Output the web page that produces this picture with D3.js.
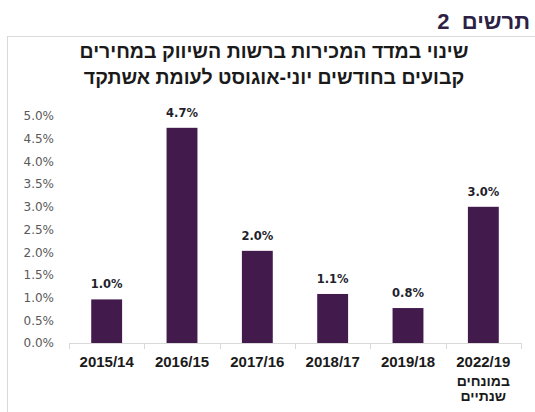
<!DOCTYPE html>
<html>
<head>
<meta charset="utf-8">
<script src="https://cdn.jsdelivr.net/npm/d3@7"></script>
<style>
  body { margin: 0; background: #fff; }
  svg { display: block; }
</style>
</head>
<body>
<div id="chart"></div>
<script>
// --- DATA ---
var categories = ["2015/14", "2016/15", "2017/16", "2018/17", "2019/18", "2022/19"];
var subLabels = [[], [], [], [], [], ["במונחים", "שנתיים"]];
var values = [0.0096, 0.0474, 0.0203, 0.0108, 0.0077, 0.0300];
var valueLabels = ["1.0%", "4.7%", "2.0%", "1.1%", "0.8%", "3.0%"];
var yTicks = [0, 0.005, 0.01, 0.015, 0.02, 0.025, 0.03, 0.035, 0.04, 0.045, 0.05];
var header = "תרשים  2";
var titleLines = ["שינוי במדד המכירות ברשות השיווק במחירים", "קבועים בחודשים יוני-אוגוסט לעומת אשתקד"];

// --- SETUP ---
var width = 535, height = 412;
var svg = d3.select("#chart").append("svg")
  .attr("width", width)
  .attr("height", height);

var margin = { left: 69, right: 14, top: 116, bottom: 69 };

var x = d3.scaleBand()
  .domain(categories)
  .range([margin.left, width - margin.right])
  .paddingInner(0.59)
  .paddingOuter(0.295);

var y = d3.scaleLinear()
  .domain([0, 0.05])
  .range([height - margin.bottom, margin.top]);

// frame (top and left border lines)
svg.append("line")
  .attr("x1", 7).attr("x2", width)
  .attr("y1", 36.5).attr("y2", 36.5)
  .attr("stroke", "#d9d9d9").attr("stroke-width", 1);
svg.append("line")
  .attr("x1", 7.5).attr("x2", 7.5)
  .attr("y1", 36).attr("y2", height)
  .attr("stroke", "#d9d9d9").attr("stroke-width", 1);

// header (rtl: "start" anchors the right edge)
svg.append("text")
  .attr("x", 530).attr("y", 29)
  .attr("text-anchor", "start")
  .attr("direction", "rtl")
  .style("white-space", "pre")
  .style("font-family", "'Liberation Sans', Arial, sans-serif")
  .style("font-weight", "bold")
  .style("font-size", "22px")
  .attr("fill", "#2e1f45")
  .text(header);

// title
svg.selectAll(".title")
  .data(titleLines)
  .enter().append("text")
  .attr("class", "title")
  .attr("x", 274)
  .attr("y", function(d, i) { return 58 + i * 26; })
  .attr("text-anchor", "middle")
  .attr("direction", "rtl")
  .style("font-family", "'Liberation Sans', Arial, sans-serif")
  .style("font-weight", "bold")
  .style("font-size", "19.5px")
  .attr("fill", "#1a1a1a")
  .text(function(d) { return d; });

// y axis labels (no line)
var yAxis = d3.axisLeft(y)
  .tickValues(yTicks)
  .tickFormat(d3.format(".1%"))
  .tickSize(0)
  .tickPadding(0);

var gy = svg.append("g")
  .attr("transform", "translate(54,0)")
  .call(yAxis);
gy.select(".domain").remove();
gy.selectAll("text")
  .style("font-family", "'DejaVu Sans', Verdana, sans-serif")
  .style("font-size", "12px")
  .attr("fill", "#595959");

// bars
svg.selectAll(".bar")
  .data(values)
  .enter().append("rect")
  .attr("class", "bar")
  .attr("x", function(d, i) { return x(categories[i]); })
  .attr("y", function(d) { return y(d); })
  .attr("width", x.bandwidth())
  .attr("height", function(d) { return y(0) - y(d); })
  .attr("fill", "#421b4c");

// value labels
svg.selectAll(".vlabel")
  .data(values)
  .enter().append("text")
  .attr("class", "vlabel")
  .attr("x", function(d, i) { return x(categories[i]) + x.bandwidth() / 2; })
  .attr("y", function(d) { return y(d) - 11; })
  .attr("text-anchor", "middle")
  .style("font-family", "'DejaVu Sans', Verdana, sans-serif")
  .style("font-weight", "bold")
  .style("font-size", "11.5px")
  .attr("fill", "#1f1f2e")
  .text(function(d, i) { return valueLabels[i]; });

// x axis line with ticks at category boundaries
var gx = svg.append("g").attr("class", "xaxis");
gx.append("line")
  .attr("x1", x.range()[0]).attr("x2", x.range()[1])
  .attr("y1", y(0) + 0.5).attr("y2", y(0) + 0.5)
  .attr("stroke", "#d9d9d9");
var bounds = categories.map(function(c) { return x(c) - x.step() * x.paddingOuter(); });
bounds.push(x.range()[1]);
gx.selectAll(".tick")
  .data(bounds)
  .enter().append("line")
  .attr("x1", function(d) { return Math.round(d) + 0.5; })
  .attr("x2", function(d) { return Math.round(d) + 0.5; })
  .attr("y1", y(0)).attr("y2", y(0) + 6)
  .attr("stroke", "#d9d9d9");

// category labels
var catG = gx.selectAll(".cat")
  .data(categories)
  .enter().append("text")
  .attr("class", "cat")
  .attr("text-anchor", "middle")
  .style("font-family", "'Liberation Sans', Arial, sans-serif")
  .style("font-weight", "bold")
  .style("font-size", "15px")
  .attr("fill", "#1a1a1a");

catG.append("tspan")
  .attr("x", function(d) { return x(d) + x.bandwidth() / 2; })
  .attr("y", 367)
  .text(function(d) { return d; });

catG.each(function(d, i) {
  var t = d3.select(this);
  subLabels[i].forEach(function(s, j) {
    t.append("tspan")
      .attr("x", x(d) + x.bandwidth() / 2)
      .attr("y", 386 + j * 15)
      .attr("direction", "rtl")
      .style("font-size", "14px")
      .text(s);
  });
});
</script>
</body>
</html>
